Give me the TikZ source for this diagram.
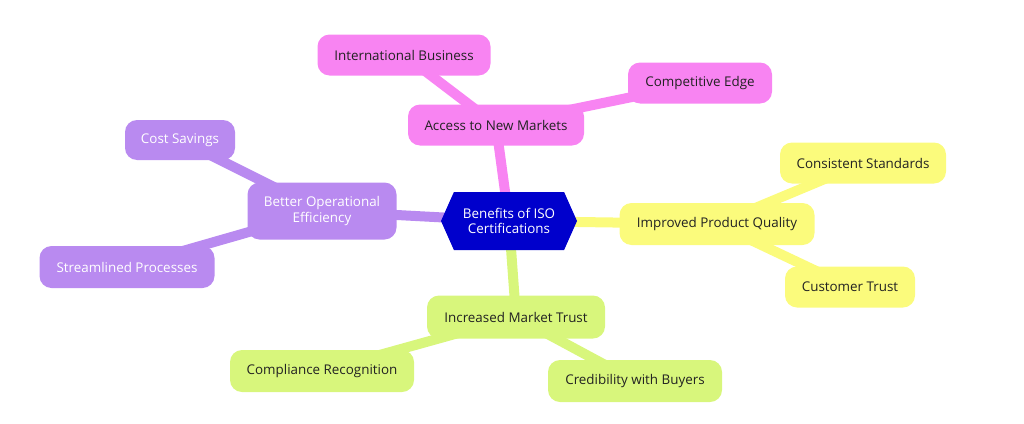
\documentclass[tikz,border=0pt]{standalone}
\usepackage{fontspec}
\setmainfont{Open Sans}
\usetikzlibrary{shapes.symbols,backgrounds}
\definecolor{cpink}{HTML}{F884F2}
\definecolor{cyellow}{HTML}{FBFB7C}
\definecolor{cgreen}{HTML}{D8F67C}
\definecolor{cpurple}{HTML}{B98AF0}
\definecolor{cblue}{HTML}{0000CC}
\definecolor{ctext}{HTML}{222222}
\tikzset{
  leaf/.style={rounded corners=12pt, minimum height=41pt, inner xsep=2pt, align=center,
    font=\fontsize{13.4}{15.5}\selectfont, text=ctext},
  pinkbox/.style={leaf, fill=cpink},
  yellowbox/.style={leaf, fill=cyellow},
  greenbox/.style={leaf, fill=cgreen},
  purplebox/.style={leaf, fill=cpurple, text=white},
  link/.style={line width=10pt},
}
\begin{document}
\begin{tikzpicture}[x=1pt,y=-1pt]
\useasboundingbox (0,0) rectangle (1024,423);
\node[signal, signal to=east and west, signal pointer angle=132, fill=cblue, text=white,
  minimum width=136pt, minimum height=58pt, inner sep=0pt, align=center,
  font=\fontsize{13.4}{15.5}\selectfont] (ctr) at (509,221) {Benefits of ISO\\Certifications};
\node[pinkbox, minimum width=176pt] (acc) at (496,125) {Access to New Markets};
\node[pinkbox, minimum width=173pt] (intl) at (404,55) {International Business};
\node[pinkbox, minimum width=144pt] (comp) at (700,83) {Competitive Edge};
\node[yellowbox, minimum width=195pt, minimum height=42pt] (qual) at (717,224) {Improved Product Quality};
\node[yellowbox, minimum width=166pt] (cons) at (863,163) {Consistent Standards};
\node[yellowbox, minimum width=130pt] (cust) at (850,287) {Customer Trust};
\node[greenbox, minimum width=178pt, minimum height=43pt] (incr) at (516,317) {Increased Market Trust};
\node[greenbox, minimum width=184pt, minimum height=42pt] (compl) at (322,371) {Compliance Recognition};
\node[greenbox, minimum width=174pt, minimum height=42pt] (cred) at (635,381) {Credibility with Buyers};
\node[purplebox, minimum width=149pt, minimum height=57pt] (eff) at (322,211) {Better Operational\\Efficiency};
\node[purplebox, minimum width=110pt, minimum height=40pt] (cost) at (180,140) {Cost Savings};
\node[purplebox, minimum width=175pt, minimum height=42pt] (stream) at (127,267) {Streamlined Processes};
\begin{scope}[on background layer]
\draw[link, cpink] (ctr.center) -- (acc.center);
\draw[link, cpink] (acc.center) -- (intl.center);
\draw[link, cpink] (acc.center) -- (comp.center);
\draw[link, cyellow] (ctr.center) -- (qual.center);
\draw[link, cyellow] (qual.center) -- (cons.center);
\draw[link, cyellow] (qual.center) -- (cust.center);
\draw[link, cgreen] (ctr.center) -- (incr.center);
\draw[link, cgreen] (incr.center) -- (compl.center);
\draw[link, cgreen] (incr.center) -- (cred.center);
\draw[link, cpurple] (ctr.center) -- (eff.center);
\draw[link, cpurple] (eff.center) -- (cost.center);
\draw[link, cpurple] (eff.center) -- (stream.center);
\end{scope}
\end{tikzpicture}
\end{document}
